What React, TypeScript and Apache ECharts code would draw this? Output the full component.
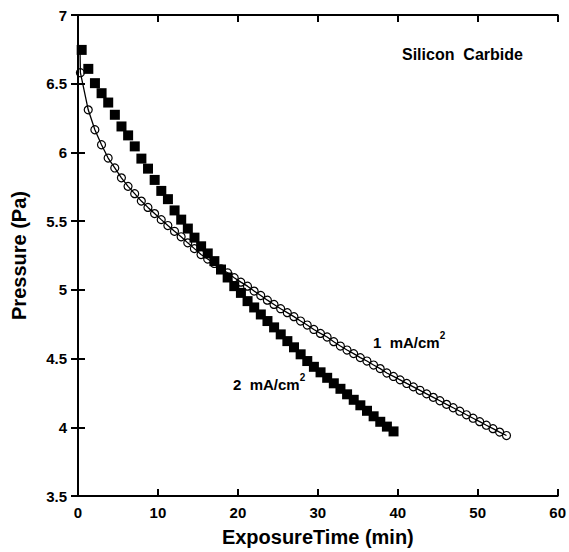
import React, { useEffect, useRef } from "react";
import * as echarts from "echarts";

const FONT = "Liberation Sans, Arial, Helvetica, sans-serif";

// 2 mA/cm2 (filled squares)
const squareTime = [
  0.46, 1.29, 2.12, 2.95, 3.78, 4.61, 5.44, 6.27, 7.1, 7.93, 8.76, 9.59, 10.42, 11.25, 12.08, 12.91,
  13.74, 14.57, 15.4, 16.23, 17.06, 17.89, 18.72, 19.55, 20.38, 21.21, 22.04, 22.87, 23.7, 24.53,
  25.36, 26.19, 27.02, 27.85, 28.68, 29.51, 30.34, 31.17, 32.0, 32.83, 33.66, 34.49, 35.32, 36.15,
  36.98, 37.81, 38.64, 39.47,
];
const squarePressure = [
  6.746, 6.608, 6.504, 6.431, 6.363, 6.274, 6.189, 6.124, 6.044, 5.955, 5.882, 5.8, 5.72, 5.66,
  5.578, 5.511, 5.446, 5.38, 5.317, 5.265, 5.209, 5.148, 5.09, 5.027, 4.978, 4.918, 4.872, 4.821,
  4.773, 4.727, 4.676, 4.627, 4.582, 4.531, 4.482, 4.44, 4.4, 4.36, 4.32, 4.28, 4.24, 4.2, 4.16,
  4.12, 4.08, 4.04, 4.005, 3.97,
];

// 1 mA/cm2 (open circles)
const circleTime = [
  0.3, 1.28, 2.11, 2.94, 3.77, 4.6, 5.43, 6.26, 7.09, 7.92, 8.75, 9.58, 10.41, 11.24, 12.07, 12.9,
  13.73, 14.56, 15.39, 16.22, 17.05, 17.88, 18.71, 19.54, 20.37, 21.2, 22.03, 22.86, 23.69, 24.52,
  25.35, 26.18, 27.01, 27.84, 28.67, 29.5, 30.33, 31.16, 31.99, 32.82, 33.65, 34.48, 35.31, 36.14,
  36.97, 37.8, 38.63, 39.46, 40.29, 41.12, 41.95, 42.78, 43.61, 44.44, 45.27, 46.1, 46.93, 47.76,
  48.59, 49.42, 50.25, 51.08, 51.91, 52.74, 53.6,
];
const circlePressure = [
  6.58, 6.31, 6.165, 6.056, 5.959, 5.887, 5.815, 5.753, 5.7, 5.646, 5.6, 5.555, 5.511, 5.468,
  5.426, 5.386, 5.342, 5.3, 5.257, 5.224, 5.192, 5.153, 5.124, 5.088, 5.056, 5.027, 4.991, 4.959,
  4.925, 4.894, 4.863, 4.834, 4.805, 4.773, 4.744, 4.712, 4.683, 4.657, 4.623, 4.591, 4.562, 4.536,
  4.507, 4.482, 4.453, 4.427, 4.395, 4.37, 4.345, 4.319, 4.294, 4.269, 4.243, 4.218, 4.193, 4.167,
  4.142, 4.117, 4.091, 4.066, 4.041, 4.015, 3.99, 3.965, 3.94,
];

// start of the fitted curve through the circles
const fitStart = [0.25, 6.75];

const xTicks = { min: 0, max: 60, interval: 10 };
const yTicks = { min: 3.5, max: 7, interval: 0.5 };

function pairs(xs: number[], ys: number[]) {
  const n = Math.min(xs.length, ys.length);
  const out: number[][] = [];
  for (let i = 0; i < n; i++) out.push([xs[i], ys[i]]);
  return out;
}

export default function App() {
  const ref = useRef<HTMLDivElement>(null);
  useEffect(() => {
    if (!ref.current) return;
    const chart = echarts.init(ref.current, undefined, { renderer: "svg" });
    const axisLine = { show: true, lineStyle: { color: "#000", width: 2 } };
    const axisTick = { show: true, inside: true, length: 7, lineStyle: { color: "#000", width: 2 } };
    const labelStyle = { color: "#000", fontWeight: "bold" as const, fontSize: 15, fontFamily: FONT };
    const circles = pairs(circleTime, circlePressure);
    const supRich = {
      sup: { fontSize: 10, fontWeight: "bold", fontFamily: FONT, fill: "#000", verticalAlign: "top", lineHeight: 24 },
    };
    const annoStyle = { fontSize: 15, fontWeight: "bold", fontFamily: FONT, fill: "#000" };
    chart.setOption({
      animation: false,
      backgroundColor: "#fff",
      grid: { left: 78, right: 9, top: 15, bottom: 55, containLabel: false },
      xAxis: [
        {
          type: "value",
          ...xTicks,
          position: "bottom",
          axisLine,
          axisTick,
          splitLine: { show: false },
          axisLabel: { ...labelStyle, margin: 9 },
          name: "ExposureTime (min)",
          nameLocation: "middle",
          nameGap: 31,
          nameTextStyle: { color: "#000", fontWeight: "bold", fontSize: 20, fontFamily: FONT },
        },
        {
          type: "value",
          ...xTicks,
          position: "top",
          axisLine,
          axisTick,
          splitLine: { show: false },
          axisLabel: { show: false },
        },
      ],
      yAxis: [
        {
          type: "value",
          ...yTicks,
          position: "left",
          axisLine,
          axisTick,
          splitLine: { show: false },
          axisLabel: { ...labelStyle, margin: 11 },
          name: "Pressure (Pa)",
          nameLocation: "middle",
          nameGap: 49,
          nameTextStyle: { color: "#000", fontWeight: "bold", fontSize: 20, fontFamily: FONT },
        },
        {
          type: "value",
          ...yTicks,
          position: "right",
          axisLine,
          axisTick,
          splitLine: { show: false },
          axisLabel: { show: false },
        },
      ],
      series: [
        {
          type: "line",
          data: [fitStart, ...circles],
          showSymbol: false,
          symbol: "none",
          lineStyle: { color: "#000", width: 1.3 },
          z: 3,
        },
        {
          type: "scatter",
          data: circles,
          symbol: "circle",
          symbolSize: 8,
          itemStyle: { color: "rgba(255,255,255,0)", borderColor: "#000", borderWidth: 1.2, opacity: 1 },
          z: 4,
        },
        {
          type: "scatter",
          data: pairs(squareTime, squarePressure),
          symbol: "rect",
          symbolSize: 10,
          itemStyle: { color: "#000", opacity: 1 },
          z: 5,
        },
      ],
      graphic: [
        {
          type: "text",
          left: 402,
          top: 46,
          style: { text: "Silicon  Carbide", ...annoStyle, fontSize: 16 },
        },
        {
          type: "text",
          left: 373,
          top: 330,
          style: { text: "1  mA/cm{sup|2}", ...annoStyle, rich: supRich },
        },
        {
          type: "text",
          left: 233,
          top: 372,
          style: { text: "2  mA/cm{sup|2}", ...annoStyle, rich: supRich },
        },
      ],
    });
    return () => chart.dispose();
  }, []);
  return <div ref={ref} style={{ width: 569, height: 552, position: "absolute", left: 0, top: 0 }} />;
}
